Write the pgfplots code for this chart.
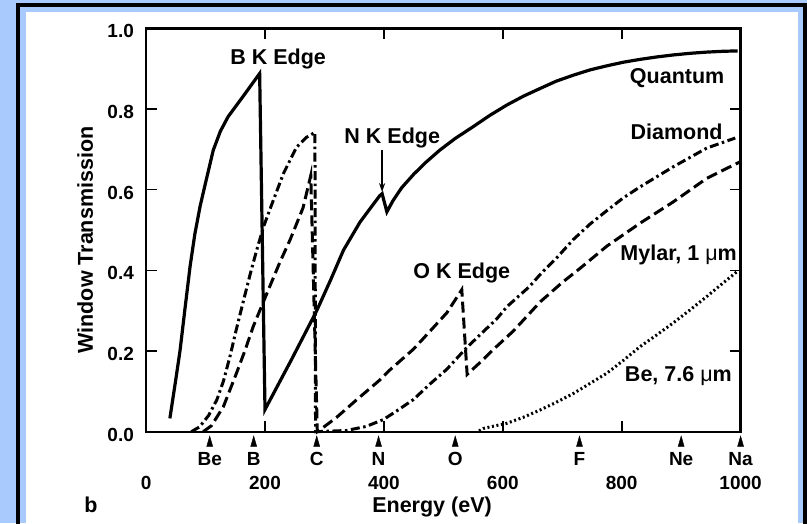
\documentclass[border=0pt]{standalone}
\usepackage{fontspec}
\setmainfont{Liberation Sans}
\usepackage{pgfplots}
\pgfplotsset{compat=1.18}
\usetikzlibrary{arrows.meta}
\definecolor{bgblue}{RGB}{168,202,252}
\newcommand{\labfont}{\fontsize{21.5}{25}\selectfont\bfseries}
\newcommand{\tickfont}{\fontsize{19}{22}\selectfont\bfseries}
\begin{document}
\begin{tikzpicture}
\useasboundingbox (0pt,0pt) rectangle (807pt,-523pt);
\clip (0pt,0pt) rectangle (807pt,-523pt);
\fill[bgblue] (0pt,0pt) rectangle (807pt,-523pt);
\draw[line width=4pt, black] (18pt,-5pt) rectangle (805pt,-540pt);
\fill[white] (26pt,-12pt) rectangle (798pt,-540pt);
\begin{axis}[
  at={(146.1pt,-431.7pt)}, anchor=south west,
  scale only axis, width=594.5pt, height=403.4pt,
  xmin=0, xmax=1000, ymin=0, ymax=1,
  clip=false,
  xtick={0,200,...,1000},
  ytick={0,0.2,...,1.0},
  tick align=inside,
  major tick length=11pt,
  axis line style={line width=2.4pt},
  major tick style={line width=1.6pt, black},
  /pgf/number format/assume math mode=true,
  /pgf/number format/set thousands separator={},
  yticklabel={\pgfmathprintnumber[fixed,fixed zerofill,precision=1]{\tick}},
  xticklabel style={anchor=center, yshift=-51pt, font=\tickfont, inner sep=0pt},
  yticklabel style={anchor=east, xshift=-12pt, yshift=-3pt, font=\tickfont, inner sep=0pt},
  xlabel={Energy (eV)},
  xlabel style={at={(axis description cs:0.481,-0.1867)}, anchor=center, font=\labfont},
  ylabel={Window Transmission},
  ylabel style={at={(axis description cs:-0.1026,0.475)}, anchor=center, font=\labfont},
]
% Quantum (solid)
\addplot[line width=3.2pt, black] coordinates {
(40,0.033) (50,0.13) (57,0.20) (65,0.30) (74,0.41) (82,0.49) (91,0.56) (100,0.617)
(113,0.698) (125,0.745) (138,0.781) (165,0.835) (191,0.888) (200,0.055)
(245,0.18) (287,0.30) (310,0.375) (332,0.45) (360,0.52) (393,0.585) (397,0.59)
(405,0.545) (415,0.572) (430,0.605) (450,0.638) (470,0.667) (494,0.698)
(520,0.727) (550,0.756) (578,0.784) (607,0.81) (635,0.832) (663,0.851)
(690,0.869) (719,0.884) (747,0.897) (775,0.907) (803,0.916) (831,0.923)
(859,0.929) (887,0.934) (915,0.938) (943,0.941) (970,0.943) (995,0.944)
};
% Diamond (dash-dot)
\addplot[line width=3pt, black, dash pattern=on 9pt off 3.5pt on 2.5pt off 3.5pt] coordinates {
(76,0) (90,0.012) (105,0.04) (119,0.079) (130,0.125) (141,0.186) (152,0.255)
(164,0.326) (175,0.39) (186,0.45) (198,0.51) (211,0.562) (231,0.64) (253,0.705)
(270,0.73) (284,0.742) (285,0) (337,0.003) (370,0.013) (399,0.03) (420,0.05)
(450,0.08) (475,0.115) (506,0.155) (537,0.205) (565,0.245) (590,0.28) (607,0.31)
(645,0.36) (663,0.39) (690,0.43) (719,0.477) (747,0.515) (775,0.548) (803,0.58)
(831,0.607) (859,0.632) (887,0.657) (915,0.68) (943,0.703) (991,0.728)
};
% Mylar (dashed)
\addplot[line width=3pt, black, dash pattern=on 11pt off 5pt] coordinates {
(96,0) (110,0.015) (130,0.062) (152,0.145) (166,0.20) (180,0.26) (194,0.31)
(208,0.36) (225,0.42) (242,0.475) (264,0.555) (277,0.635) (288,0) (292,0.004)
(320,0.035) (354,0.079) (393,0.128) (410,0.153) (450,0.205) (475,0.245)
(506,0.295) (531,0.352) (540,0.142) (562,0.172) (585,0.205) (618,0.25)
(663,0.322) (700,0.37) (730,0.405) (775,0.46) (831,0.517) (887,0.57)
(943,0.628) (999,0.669)
};
% Be 7.6 um (dotted)
\addplot[line width=3pt, black, dash pattern=on 2pt off 2.6pt] coordinates {
(560,0.002) (567,0.008) (607,0.021) (635,0.036) (663,0.054) (690,0.073)
(719,0.095) (747,0.12) (775,0.145) (803,0.177) (831,0.211) (859,0.24)
(887,0.27) (915,0.302) (943,0.335) (970,0.368) (995,0.398)
};
% element edge markers
\addplot[only marks, mark=triangle*, mark size=7pt, mark options={xscale=0.5, black},
  nodes near coords, point meta=explicit symbolic,
  every node near coord/.append style={anchor=center, yshift=-16pt, font=\tickfont, inner sep=0pt}]
  table[meta=lab] {
x y lab
107 -0.028 Be
181 -0.028 B
287 -0.028 C
391 -0.028 N
520 -0.028 O
729 -0.028 F
900 -0.028 Ne
1000 -0.028 Na
};
\draw[-{Stealth[length=9pt,width=6pt]}, line width=1.3pt] (axis cs:397,0.698) -- (axis cs:397,0.594);
\begin{scope}[every node/.style={font=\labfont, inner sep=0pt}]
\node[anchor=center] at (axis cs:222,0.924) {B K Edge};
\node[anchor=center] at (axis cs:414,0.728) {N K Edge};
\node[anchor=center] at (axis cs:531,0.393) {O K Edge};
\node[anchor=east] at (axis cs:973,0.877) {Quantum};
\node[anchor=east] at (axis cs:970,0.743) {Diamond};
\node[anchor=east] at (axis cs:994,0.438) {Mylar, 1 {\mdseries μ}m};
\node[anchor=east] at (axis cs:985.5,0.138) {Be, 7.6 {\mdseries μ}m};
\node[anchor=center] at (axis description cs:-0.0927,-0.1817) {b};
\end{scope}
\end{axis}
\end{tikzpicture}
\end{document}
